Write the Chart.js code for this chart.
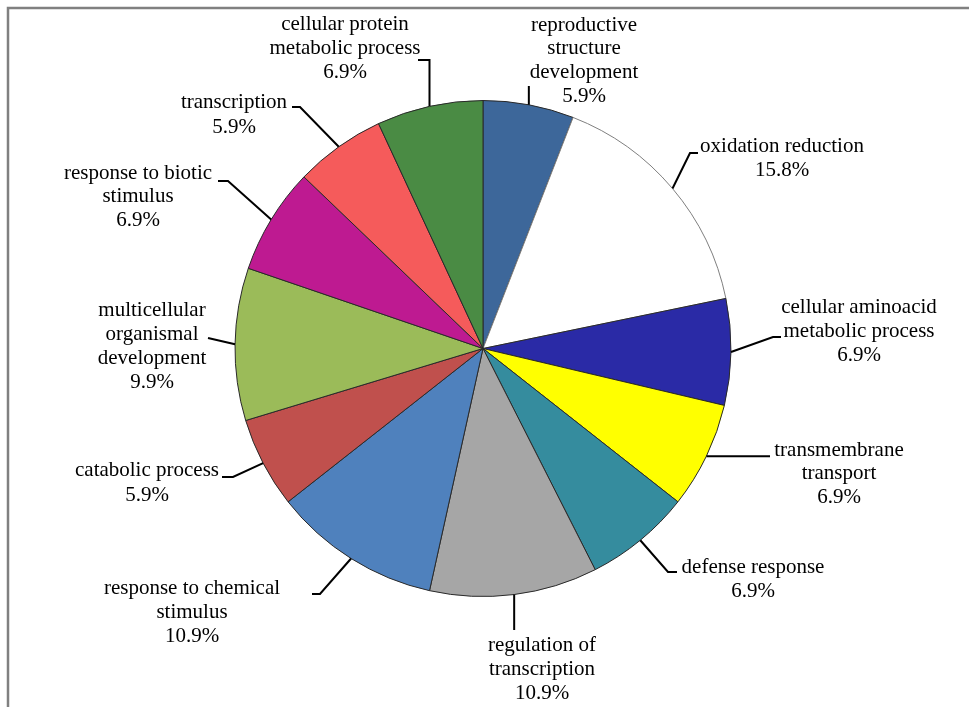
<!DOCTYPE html>
<html><head><meta charset="utf-8">
<script src="https://cdn.jsdelivr.net/npm/chart.js@4.4.1/dist/chart.umd.min.js"></script>
<style>html,body{margin:0;padding:0;background:#fff;overflow:hidden}canvas{display:block}</style>
</head><body>
<canvas id="c" width="969" height="707"></canvas>
<script>
// ---- data ----
const categories = [
  "reproductive structure development",
  "oxidation reduction",
  "cellular aminoacid metabolic process",
  "transmembrane transport",
  "defense response",
  "regulation of transcription",
  "response to chemical stimulus",
  "catabolic process",
  "multicellular organismal development",
  "response to biotic stimulus",
  "transcription",
  "cellular protein metabolic process"
];
const percentages = [5.9, 15.8, 6.9, 6.9, 6.9, 10.9, 10.9, 5.9, 9.9, 6.9, 5.9, 6.9];
const labelLines = [
  ["reproductive", "structure", "development"],
  ["oxidation reduction"],
  ["cellular aminoacid", "metabolic process"],
  ["transmembrane", "transport"],
  ["defense response"],
  ["regulation of", "transcription"],
  ["response to chemical", "stimulus"],
  ["catabolic process"],
  ["multicellular", "organismal", "development"],
  ["response to biotic", "stimulus"],
  ["transcription"],
  ["cellular protein", "metabolic process"]
];
const sliceColors = ["#3D679A", "#FFFFFF", "#2A2AA6", "#FFFF00", "#358C9E", "#A6A6A6",
                     "#4F81BD", "#C0504D", "#9BBB59", "#BE1A91", "#F55B5B", "#4A8B44"];
const borderColors = ["#2a2a2a", "#7f7f7f", "#2a2a2a", "#2a2a2a", "#2a2a2a", "#2a2a2a",
                      "#2a2a2a", "#2a2a2a", "#2a2a2a", "#2a2a2a", "#2a2a2a", "#2a2a2a"];

// ---- label layout (text centre x, first line y, line step, leader bend points; null = keep previous) ----
const labelLayout = [
  {cx: 584, y0: 25, step: 23.7, leader: [[null, 86]]},
  {cx: 782, y0: 146, step: 24, leader: [[690, 153], [698, 153]]},
  {cx: 859, y0: 307, step: 24, leader: [[773, 337], [781, 337]]},
  {cx: 839, y0: 450, step: 23.7, leader: [[770, null]]},
  {cx: 753, y0: 567, step: 24.5, leader: [[668, 572], [677, 572]]},
  {cx: 542, y0: 645, step: 24, leader: [[null, 630]]},
  {cx: 192, y0: 588, step: 24, leader: [[320, 594], [312, 594]]},
  {cx: 147, y0: 470, step: 25, leader: [[233, 477], [222, 477]]},
  {cx: 152, y0: 310, step: 24, leader: [[208, 338]]},
  {cx: 138, y0: 173, step: 23.7, leader: [[228, 181], [218, 181]]},
  {cx: 234, y0: 102, step: 25, leader: [[300, 107], [292, 107]]},
  {cx: 345, y0: 24, step: 24, leader: [[null, 60], [418, 60]]}
];

const framePlugin = {
  id: 'frame',
  beforeDraw(chart) {
    const ctx = chart.ctx;
    ctx.save();
    ctx.fillStyle = '#ffffff';
    ctx.fillRect(0, 0, chart.width, chart.height);
    ctx.strokeStyle = '#808080';
    ctx.lineWidth = 2.5;
    ctx.beginPath();
    ctx.moveTo(8, chart.height + 5);
    ctx.lineTo(8, 8);
    ctx.lineTo(chart.width + 5, 8);
    ctx.stroke();
    ctx.restore();
  }
};

const labelPlugin = {
  id: 'pieLabels',
  afterDatasetsDraw(chart) {
    const ctx = chart.ctx;
    const meta = chart.getDatasetMeta(0);
    ctx.save();
    meta.data.forEach((arc, i) => {
      const p = arc.getProps(['x', 'y', 'startAngle', 'endAngle', 'outerRadius'], true);
      const mid = (p.startAngle + p.endAngle) / 2;
      let px = p.x + Math.cos(mid) * p.outerRadius;
      let py = p.y + Math.sin(mid) * p.outerRadius;
      const L = labelLayout[i];
      ctx.strokeStyle = '#000';
      ctx.lineWidth = 2;
      ctx.beginPath();
      ctx.moveTo(px, py);
      L.leader.forEach(([lx, ly]) => {
        px = lx == null ? px : lx;
        py = ly == null ? py : ly;
        ctx.lineTo(px, py);
      });
      ctx.stroke();
      const lines = labelLines[i].concat([percentages[i].toFixed(1) + '%']);
      ctx.fillStyle = '#000';
      ctx.font = '21px "Liberation Serif", "Times New Roman", serif';
      ctx.textAlign = 'center';
      ctx.textBaseline = 'middle';
      lines.forEach((t, k) => ctx.fillText(t, L.cx, L.y0 + k * L.step));
    });
    ctx.restore();
  }
};

new Chart(document.getElementById('c'), {
  type: 'pie',
  data: {
    labels: categories,
    datasets: [{
      data: percentages,
      backgroundColor: sliceColors,
      borderColor: borderColors,
      borderWidth: 1
    }]
  },
  options: {
    responsive: false,
    animation: false,
    layout: {padding: {top: 100, bottom: 110, left: 200, right: 203}},
    plugins: {legend: {display: false}, tooltip: {enabled: false}}
  },
  plugins: [framePlugin, labelPlugin]
});
</script>
</body></html>
